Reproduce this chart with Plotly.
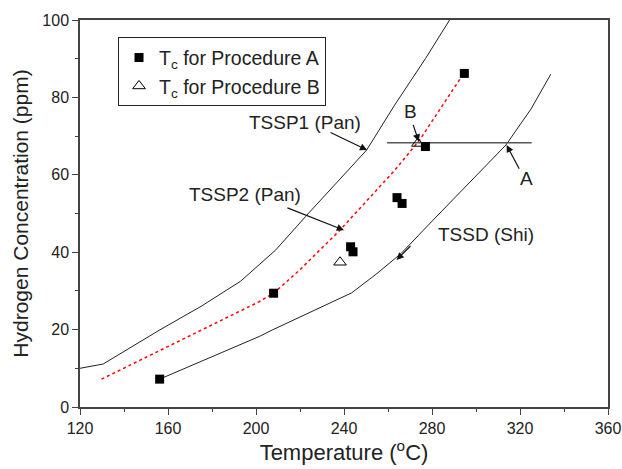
import plotly.graph_objects as go

# Measured points
procA_T = [156.2, 208.0, 243.0, 244.1, 264.1, 266.4, 277.0, 294.7]
procA_H = [7.2, 29.4, 41.4, 40.1, 54.1, 52.6, 67.3, 86.2]
procB_T = [238.2, 273.6]
procB_H = [37.4, 68.1]

# Curves
tssp1_T = [120, 130.5, 156.2, 175, 193, 209, 222.5, 236, 250.3, 263, 277, 288]
tssp1_H = [10, 11.1, 19.9, 26, 32.5, 40.6, 49.2, 57.5, 66.4, 78, 90, 100]
tssp2_T = [129.8, 150, 170, 192.3, 201.4, 208, 220, 237.5, 250, 263.1, 274.4, 285, 293]
tssp2_H = [7.2, 12.8, 18.4, 24.6, 27.2, 29.4, 35.5, 45.3, 53, 61.2, 69, 78, 85]
tssd_T = [156.2, 201.4, 207.4, 243.5, 255, 266, 280.5, 296, 313.6, 325, 334]
tssd_H = [7.2, 18.2, 19.9, 29.5, 34.5, 39.7, 48.3, 57.5, 67.7, 77, 86]
hline_T = [259.6, 325.3]
hline_H = [68.3, 68.3]

FONT = "Liberation Sans, Arial, sans-serif"

fig = go.Figure()
fig.add_trace(go.Scatter(x=tssp1_T, y=tssp1_H, mode="lines",
                         line=dict(color="#222", width=1), showlegend=False))
fig.add_trace(go.Scatter(x=tssp2_T, y=tssp2_H, mode="lines",
                         line=dict(color="red", width=1.5, dash="dot"), showlegend=False))
fig.add_trace(go.Scatter(x=tssd_T, y=tssd_H, mode="lines",
                         line=dict(color="#222", width=1), showlegend=False))
fig.add_trace(go.Scatter(x=hline_T, y=hline_H, mode="lines",
                         line=dict(color="#555", width=1.5), showlegend=False))
fig.add_trace(go.Scatter(x=procA_T, y=procA_H, mode="markers",
                         marker=dict(symbol="square", size=9, color="black"),
                         name="T<sub>c</sub> for Procedure A"))
fig.add_trace(go.Scatter(x=procB_T, y=procB_H, mode="markers",
                         marker=dict(symbol="triangle-up-open", size=11, color="black",
                                     line=dict(width=1)),
                         name="T<sub>c</sub> for Procedure B"))

def txt(x, y, t):
    fig.add_annotation(x=x, y=y, text=t, showarrow=False,
                       font=dict(family=FONT, size=19, color="#222"))

def arrow(x0, y0, x1, y1):
    fig.add_annotation(x=x1, y=y1, ax=x0, ay=y0, axref="x", ayref="y",
                       xref="x", yref="y", text="", showarrow=True,
                       arrowhead=2, arrowsize=1.2, arrowwidth=1.2, arrowcolor="#111")

txt(222.3, 73.4, "TSSP1 (Pan)")
arrow(233.2, 71.1, 250.5, 66.4)
txt(195.2, 55.0, "TSSP2 (Pan)")
arrow(213.6, 51.6, 240.0, 45.7)
txt(270.2, 76.3, "B")
arrow(271.2, 73.3, 274.0, 68.6)
txt(323.0, 59.1, "A")
arrow(320.0, 61.2, 313.9, 67.7)
txt(304.5, 44.6, "TSSD (Shi)")
arrow(270.9, 42.0, 263.9, 38.0)

axis_common = dict(showgrid=False, zeroline=False, showline=True, linecolor="#444",
                   linewidth=1.5, mirror=True, ticks="outside", ticklen=6,
                   tickwidth=1, tickcolor="#444", automargin=False,
                   ticklabeloverflow="allow",
                   tickfont=dict(family=FONT, size=16, color="#222"))

fig.update_xaxes(range=[120, 360], dtick=40, tick0=120,
                 minor=dict(dtick=20, ticks="outside", ticklen=3, tickcolor="#444"),
                 title=dict(text="Temperature (<sup>o</sup>C)",
                            font=dict(family=FONT, size=22, color="#222"), standoff=6),
                 **axis_common)
fig.update_yaxes(range=[0, 100], dtick=20,
                 minor=dict(dtick=10, ticks="outside", ticklen=3, tickcolor="#444"),
                 title=dict(text="Hydrogen Concentration (ppm)",
                            font=dict(family=FONT, size=21, color="#222"), standoff=8),
                 **axis_common)

fig.update_layout(
    width=622, height=469,
    margin=dict(l=80, r=14, t=20, b=62),
    plot_bgcolor="white", paper_bgcolor="white",
    legend=dict(x=0.072, y=0.955, xanchor="left", yanchor="top",
                bordercolor="#222", borderwidth=1, bgcolor="white",
                font=dict(family=FONT, size=19.5, color="#222")),
)

fig.write_html("out.html")
